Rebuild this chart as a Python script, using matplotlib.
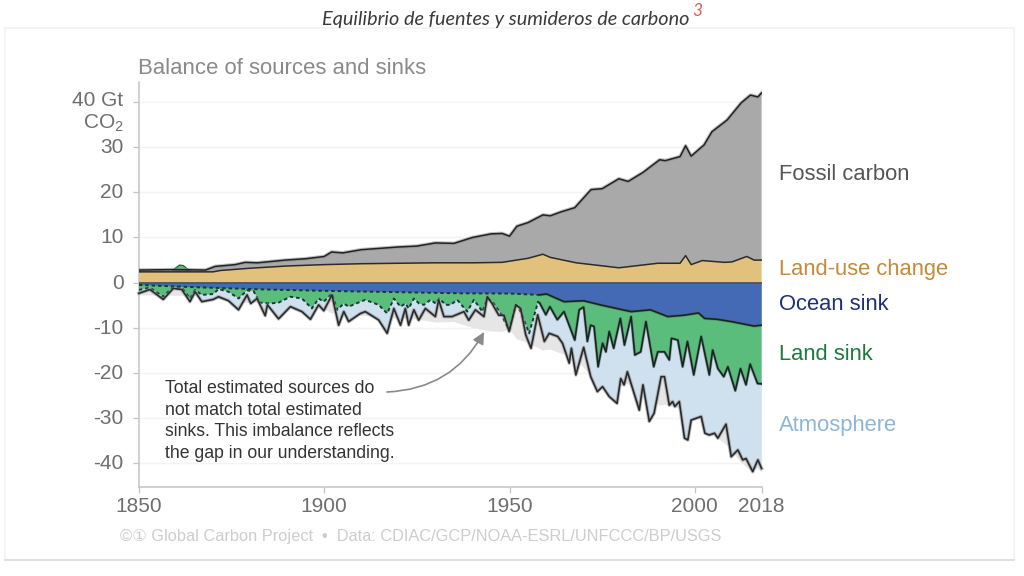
import numpy as np
import matplotlib
matplotlib.use('Agg')
import matplotlib.pyplot as plt
import matplotlib.patheffects as pe
import matplotlib.transforms as mtrans
from matplotlib.patches import Rectangle

W, H = 1024, 576
plt.rcParams['font.family'] = ['Liberation Sans', 'DejaVu Sans']

# --- values (Gt CO2) ---
total_years = np.array([1850, 1860, 1868, 1870.6, 1876, 1878.7, 1882, 1889.5, 1895, 1900, 1902, 1905, 1910, 1915, 1920,
                        1925, 1930, 1935, 1940, 1945, 1948, 1950, 1952, 1955, 1959, 1961, 1964, 1967.6, 1972, 1975,
                        1979.5, 1982, 1986, 1990.5, 1992, 1996, 1997.5, 1999, 2002.5, 2004.6, 2008.7, 2012.5, 2015,
                        2017, 2018])
total_vals = np.array([2.8, 2.9, 2.8, 3.6, 4.0, 4.5, 4.4, 5.0, 5.3, 5.8, 6.8, 6.6, 7.3, 7.6, 7.9,
                       8.1, 8.8, 8.7, 10.0, 10.8, 10.9, 10.3, 12.5, 13.3, 15.0, 14.8, 15.7, 16.6, 20.6, 20.8,
                       23.0, 22.4, 24.4, 27.2, 27.0, 27.9, 30.3, 28.0, 30.5, 33.4, 36.0, 39.8, 41.5, 41.1, 42.0])

landuse_years = np.array([1850, 1870, 1872, 1880, 1890, 1900, 1910, 1920, 1930, 1940, 1948, 1955, 1959, 1961, 1968,
                          1979.5, 1990, 1996, 1997.5, 1999, 2002, 2008, 2010, 2014, 2016, 2018])
landuse_vals = np.array([2.4, 2.4, 2.7, 3.2, 3.7, 4.0, 4.2, 4.3, 4.4, 4.4, 4.5, 5.4, 6.3, 5.6, 4.4,
                         3.3, 4.3, 4.3, 6.0, 4.0, 4.9, 4.5, 4.6, 5.8, 5.0, 5.0])

bump_years = np.array([1859, 1860, 1861, 1862, 1863, 1864])
bump_vals = np.array([2.7, 3.3, 3.9, 3.8, 3.1, 2.7])

ocean_years = np.array([1850, 1865, 1884, 1900, 1920, 1937, 1950, 1958, 1960, 1964.7, 1970, 1975, 1982.8, 1988, 1992.7,
                        1997, 2001, 2002.6, 2006, 2009.8, 2016, 2018])
ocean_vals = np.array([-0.5, -1.0, -1.5, -1.8, -2.1, -2.35, -2.4, -2.7, -2.5, -4.2, -4.0, -5.0, -6.4, -6.0, -7.5,
                       -7.2, -6.7, -7.9, -8.1, -8.6, -9.6, -9.4])

land_years = np.array([1850, 1853, 1856.6, 1859.3, 1861.6, 1863.8, 1865.2, 1867, 1870.1, 1871.5, 1874.2, 1876.9,
                       1879.2, 1881, 1882.6, 1885.5, 1887.7, 1890.9, 1894, 1896.7, 1898.5, 1899.9, 1902.1, 1903.5,
                       1905.3, 1906.6, 1909.8, 1911.1, 1914.7, 1917, 1918.8, 1920.6, 1921.9, 1922.8, 1924.2, 1925.6,
                       1926.9, 1928.7, 1930.1, 1931, 1932.8, 1934.1, 1935.9, 1938.6, 1940.4, 1942.7, 1944, 1945.4,
                       1947.6, 1949.9, 1951.7, 1953, 1955.3, 1957.7, 1958.2, 1959.8, 1960.9, 1962.9, 1964.7, 1967.6,
                       1968.8, 1970, 1971, 1971.9, 1972.8, 1973.9, 1975.1, 1976, 1976.9, 1978.1, 1979.9, 1981, 1982.8,
                       1983.8, 1985.4, 1986.8, 1988.9, 1990, 1991.8, 1993.1, 1993.7, 1995.4, 1996.7, 1998, 1999.7,
                       2001.7, 2003.9, 2004.8, 2006.2, 2007.8, 2008.9, 2010.9, 2012.3, 2013.8, 2014.9, 2016.9, 2018])
land_vals = np.array([-1.6, -1.1, -3.1, -0.9, -1.1, -3.5, -1.6, -2.7, -2.5, -1.4, -2.0, -3.5,
                      -1.7, -1.9, -4.4, -4.6, -4.4, -3.1, -3.5, -5.7, -3.5, -4.2, -2.4, -6.0,
                      -4.6, -5.3, -4.2, -3.8, -4.9, -6.8, -3.5, -5.3, -4.6, -5.7, -3.5, -4.6,
                      -4.9, -3.8, -4.6, -3.5, -4.9, -4.9, -3.8, -6.4, -3.8, -6.4, -3.5, -4.2,
                      -6.8, -10.5, -4.9, -6.4, -11.2, -4.2, -4.6, -7.1, -5.3, -8.2, -6.4, -12.7,
                      -6.0, -5.4, -13.0, -9.4, -9.7, -18.6, -13.4, -15.3, -10.8, -14.5, -7.9, -13.8, -7.5,
                      -16.0, -15.3, -8.6, -18.6, -15.3, -15.3, -17.1, -12.3, -12.7, -18.6, -13.0, -20.4,
                      -11.9, -20.4, -14.9, -19.0, -20.8, -18.6, -23.9, -19.0, -22.6, -18.0, -22.3, -22.4])

atm_years = np.array([1850, 1853, 1856.6, 1859.3, 1861.6, 1863.8, 1865.2, 1867, 1870.1, 1871.5, 1874.2, 1876.9,
                      1879.2, 1880.2, 1881.9, 1884.1, 1884.7, 1887.7, 1890.9, 1894, 1896.3, 1898.5, 1899.9, 1902.1,
                      1903.9, 1905.3, 1906.6, 1909.8, 1911.1, 1914.7, 1917, 1918.8, 1920.6, 1921.9, 1922.8, 1924.2,
                      1925.5, 1927.3, 1930, 1930.9, 1932.3, 1934.5, 1937.7, 1939, 1940.8, 1943.1, 1944, 1945.3,
                      1947.1, 1948.5, 1949.9, 1951.7, 1953, 1954.4, 1955.8, 1957.6, 1959.4, 1960.7, 1963, 1964.3,
                      1966.1, 1966.7, 1967.9, 1970, 1971.9, 1973.7, 1975.1, 1976.9, 1979, 1980, 1980.9, 1981.8, 1985,
                      1986, 1987.7, 1989, 1990.9, 1991.8, 1993.1, 1994, 1994.6, 1995.8, 1997.2, 1998.1, 1999, 2001.7,
                      2002.7, 2003.9, 2005.3, 2006.2, 2008.4, 2009.8, 2011.6, 2012.9, 2013.8, 2015.6, 2017, 2018])
atm_vals = np.array([-2.35, -1.5, -3.7, -1.25, -1.5, -4.2, -2.0, -4.2, -3.7, -3.1, -4.0, -6.0,
                     -2.7, -4.6, -3.5, -7.3, -4.9, -8.0, -5.3, -6.4, -8.1, -4.9, -6.2, -2.7,
                     -9.4, -6.4, -8.6, -6.8, -6.4, -8.25, -11.2, -5.7, -9.4, -5.7, -9.4, -6.0,
                     -8.3, -5.7, -7.5, -3.8, -7.5, -7.5, -6.4, -8.3, -6.0, -7.5, -3.1, -4.6,
                     -7.2, -7.2, -10.8, -4.9, -5.7, -11.6, -14.5, -7.1, -13.0, -11.2, -11.9, -13.4,
                     -17.8, -14.5, -20.4, -14.3, -20.8, -24.1, -23.0, -25.2, -26.7, -21.2, -22.6, -19.7, -28.2,
                     -22.6, -30.7, -28.9, -20.8, -20.8, -27.1, -26.3, -27.4, -26.3, -34.4, -34.8, -30.4, -29.6,
                     -33.3, -33.7, -33.3, -34.4, -31.3, -38.5, -37.0, -39.2, -38.9, -41.8, -39.2, -41.1])

y_ticks = [40, 30, 20, 10, 0, -10, -20, -30, -40]
y_tick_labels = ['40 Gt', '30', '20', '10', '0', '-10', '-20', '-30', '-40']
x_ticks = [1850, 1900, 1950, 2000, 2018]
title = 'Equilibrio de fuentes y sumideros de carbono'
note = ('Total estimated sources do\nnot match total estimated\n'
        'sinks. This imbalance reflects\nthe gap in our understanding.')
footer = '©① Global Carbon Project  •  Data: CDIAC/GCP/NOAA-ESRL/UNFCCC/BP/USGS'


def fx(x): return x / W
def fy(y): return 1 - y / H


def area(ax, xs_top, ys_top, xs_bot, ys_bot, color, z):
    # polygon between two series that do not share the same years
    ax.fill(np.r_[xs_top, xs_bot[::-1]], np.r_[ys_top, ys_bot[::-1]], color=color, lw=0, zorder=z)


fig = plt.figure(figsize=(W / 100, H / 100), dpi=100, facecolor='white')

# card behind the chart, its lower edge is the strongest
fig.add_artist(Rectangle((fx(5), fy(560)), fx(1009), 532 / H, transform=fig.transFigure,
                         facecolor='white', edgecolor='#f2f2f2', lw=1.2, zorder=-2))
fig.add_artist(plt.Line2D([fx(5), fx(1014)], [fy(560), fy(560)], color='#dedede', lw=1.3, zorder=-1))

fig.text(fx(506), fy(19), title, ha='center', va='center', style='italic', family='Lato',
         fontsize=14.3, color='#3a3a3a')
fig.text(fx(692), fy(11), '3', ha='left', va='center', style='italic', family='Lato',
         fontsize=12.5, color='#d9605a')

x_left, x_right = 138.8, 761.6
y_top, y_bot = 82.0, 487.0
ax = fig.add_axes([fx(x_left), fy(y_bot), (x_right - x_left) / W, (y_bot - y_top) / H])
ax.set_xlim(1850, 2018)
ax.set_ylim((282.7 - y_bot) / 4.52, (282.7 - y_top) / 4.52)
ax.patch.set_alpha(0)

ax.hlines([t for t in y_ticks if t != 0], 1850, 2018, color='#f3f3f3', lw=1, zorder=0)

zero_x = np.array([1850, 2018])
zero_y = np.array([0, 0])
area(ax, total_years, total_vals, landuse_years, landuse_vals, '#a9a9a9', 2)
area(ax, landuse_years, landuse_vals, zero_x, zero_y, '#e2c17d', 2)
area(ax, zero_x, zero_y, total_years, -total_vals, '#e6e6e6', 1)
area(ax, zero_x, zero_y, atm_years, atm_vals, '#cfe0ee', 2)
area(ax, zero_x, zero_y, land_years, land_vals, '#5bbd7c', 3)
area(ax, zero_x, zero_y, ocean_years, ocean_vals, '#4469b5', 4)
ax.fill(bump_years, bump_vals, color='#5bbd7c', ec='#2d5c3d', lw=0.9, zorder=4)

soft = [pe.withStroke(linewidth=2.6, foreground='#8c8c8c', alpha=0.55)]
ax.plot(total_years, total_vals, color='#222222', lw=1.1, zorder=6, path_effects=soft)
ax.plot(landuse_years, landuse_vals, color='#2b2b2b', lw=1.1, zorder=6)
ax.plot(zero_x, zero_y, color='#555555', lw=1.3, zorder=6)
ax.plot(atm_years, atm_vals, color='#2a2a2a', lw=1.2, zorder=6, path_effects=soft, clip_on=False)

# ocean and land are dashed before the 1958 measurements start
split = 1958.2
for years, vals in ((ocean_years, ocean_vals), (land_years, land_vals)):
    old = years <= split
    new = years >= years[old][-1]
    ax.plot(years[old], vals[old], color='#163a35', lw=1.4, ls=(0, (1.8, 1.5)), zorder=5)
    ax.plot(years[new], vals[new], color='#14261f', lw=1.2, zorder=5,
            path_effects=[pe.withStroke(linewidth=2.2, foreground='#555555', alpha=0.4)])

for s in ('top', 'right'):
    ax.spines[s].set_visible(False)
for s in ('left', 'bottom'):
    ax.spines[s].set_color('#c4c4c4')
    ax.spines[s].set_linewidth(1.1)
ax.set_xticks(x_ticks)
ax.set_yticks(y_ticks)
ax.set_yticklabels(y_tick_labels)
ax.tick_params(axis='both', length=4, width=0.9, color='#c4c4c4', labelcolor='#6e6e6e', labelsize=15, pad=7)
ax.tick_params(axis='x', pad=3)

# tick labels sit a little higher than the marks, the top one more so
up = mtrans.ScaledTranslation(0, 1.5 / 100, fig.dpi_scale_trans)
for lab in ax.get_yticklabels():
    lab.set_transform(lab.get_transform() + up)
top_up = mtrans.ScaledTranslation(0, 2 / 100, fig.dpi_scale_trans)
lab = ax.get_yticklabels()[0]
lab.set_transform(lab.get_transform() + top_up)

fig.text(fx(124), fy(123), r'CO$\mathregular{_2}$', ha='right', va='center', color='#6e6e6e', fontsize=15)

fig.text(fx(138), fy(69), 'Balance of sources and sinks', ha='left', va='center', color='#8a8a8a', fontsize=15.9)

labels = [('Fossil carbon', 175, '#555555'), ('Land-use change', 270, '#c48a3a'), ('Ocean sink', 305, '#1f2f78'),
          ('Land sink', 355, '#1d7a3e'), ('Atmosphere', 426, '#8db6d6')]
for txt, py, col in labels:
    fig.text(fx(779), fy(py), txt, ha='left', va='center', color=col, fontsize=15.8)

fig.text(fx(165), fy(421), note, ha='left', va='center', color='#333333', fontsize=12.7, linespacing=1.37)
ax.annotate('', xy=(fx(484), fy(332)), xytext=(fx(387), fy(392)), xycoords='figure fraction',
            textcoords='figure fraction', zorder=8,
            arrowprops=dict(arrowstyle='-|>,head_length=0.7,head_width=0.35', color='#8a8a8a', lw=1.2,
                            connectionstyle='arc3,rad=0.28', shrinkA=0, shrinkB=0))

fig.text(fx(120), fy(537), footer, ha='left', va='center', color='#cdcdcd', fontsize=11.8)

fig.savefig('out.png', dpi=100)
